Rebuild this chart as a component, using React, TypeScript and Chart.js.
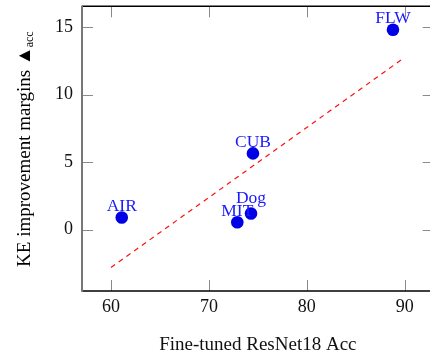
import React, { useEffect, useRef } from "react";
import { Chart, registerables } from "chart.js";

Chart.register(...registerables);

const categories = ["AIR", "MIT", "Dog", "CUB", "FLW"];
const accValues = [61.1, 72.9, 74.3, 74.5, 88.8];
const marginValues = [0.9, 0.55, 1.2, 5.65, 14.8];
const fitX = [60, 89.7];
const fitY = [-2.8, 12.6];
const xTicks = [60, 70, 80, 90];
const yTicks = [0, 5, 10, 15];
const xTitle = "Fine-tuned ResNet18 Acc";
const yTitleMain = "KE improvement margins \u25B2";
const yTitleSub = "acc";

const FONT = "'Liberation Serif', 'Times New Roman', serif";

const framePlugin = {
  id: "frame",
  beforeDatasetsDraw(chart: any) {
    const { ctx, chartArea: a, scales } = chart;
    ctx.save();
    ctx.strokeStyle = "#8a8a8a";
    ctx.lineWidth = 1;
    const L = 11;
    xTicks.forEach((v) => {
      const px = Math.round(scales.x.getPixelForValue(v)) + 0.5;
      ctx.beginPath();
      ctx.moveTo(px, a.bottom);
      ctx.lineTo(px, a.bottom - L);
      ctx.moveTo(px, a.top);
      ctx.lineTo(px, a.top + L);
      ctx.stroke();
    });
    yTicks.forEach((v) => {
      const py = Math.round(scales.y.getPixelForValue(v)) + 0.5;
      ctx.beginPath();
      ctx.moveTo(a.left, py);
      ctx.lineTo(a.left + L, py);
      ctx.moveTo(a.right, py);
      ctx.lineTo(a.right - L, py);
      ctx.stroke();
    });
    ctx.strokeStyle = "#000";
    ctx.lineWidth = 1.4;
    ctx.beginPath();
    ctx.moveTo(a.left, a.top);
    ctx.lineTo(a.right, a.top);
    ctx.moveTo(a.right, a.top);
    ctx.lineTo(a.right, a.bottom);
    ctx.moveTo(a.left, a.bottom);
    ctx.lineTo(a.right, a.bottom);
    ctx.stroke();
    ctx.strokeStyle = "#777";
    ctx.lineWidth = 2;
    ctx.beginPath();
    ctx.moveTo(a.left, a.top - 0.7);
    ctx.lineTo(a.left, a.bottom + 0.7);
    ctx.stroke();
    ctx.restore();
  },
  afterDatasetsDraw(chart: any) {
    const { ctx } = chart;
    const meta = chart.getDatasetMeta(0);
    ctx.save();
    ctx.font = `17.5px ${FONT}`;
    ctx.fillStyle = "#1a1aff";
    ctx.textAlign = "center";
    ctx.textBaseline = "alphabetic";
    meta.data.forEach((el: any, i: number) => {
      const label = categories[i];
      const m = ctx.measureText(label);
      const desc = Math.max(0, m.actualBoundingBoxDescent || 0);
      ctx.fillText(label, el.x, el.y - 6.5 - desc);
    });
    ctx.restore();
  },
  afterDraw(chart: any) {
    const { ctx, chartArea: a } = chart;
    ctx.save();
    const cy = (a.top + a.bottom) / 2;
    ctx.translate(30, cy);
    ctx.rotate(-Math.PI / 2);
    ctx.fillStyle = "#000";
    ctx.textBaseline = "alphabetic";
    ctx.textAlign = "left";
    const mainFont = `19px ${FONT}`;
    const subFont = `12px ${FONT}`;
    ctx.font = mainFont;
    const w1 = ctx.measureText(yTitleMain).width;
    ctx.font = subFont;
    const w2 = ctx.measureText(yTitleSub).width;
    const x0 = -(w1 + w2) / 2;
    ctx.font = mainFont;
    ctx.fillText(yTitleMain, x0, 0);
    ctx.font = subFont;
    ctx.fillText(yTitleSub, x0 + w1 - 1, 2.5);
    ctx.restore();
  },
};

export default function App() {
  const ref = useRef<HTMLCanvasElement>(null);
  useEffect(() => {
    if (!ref.current) return;
    const chart = new Chart(ref.current, {
      type: "scatter",
      data: {
        datasets: [
          {
            data: accValues.map((x, i) => ({ x, y: marginValues[i] })),
            backgroundColor: "#0000e6",
            borderWidth: 0,
            pointRadius: 6.3,
            pointHoverRadius: 6.3,
          },
          {
            type: "line",
            data: fitX.map((x, i) => ({ x, y: fitY[i] })),
            borderColor: "#ff1010",
            borderWidth: 1.2,
            borderDash: [5, 4.5],
            pointRadius: 0,
            showLine: true,
            fill: false,
          } as any,
        ],
      },
      options: {
        responsive: false,
        animation: false,
        layout: { padding: { top: 0, right: 6, left: 0, bottom: 0 } },
        plugins: { legend: { display: false }, tooltip: { enabled: false } },
        scales: {
          x: {
            type: "linear",
            min: 57.04,
            max: 92.96,
            afterBuildTicks: (s: any) => {
              s.ticks = xTicks.map((v) => ({ value: v }));
            },
            afterFit: (s: any) => {
              s.height = 64;
              s.paddingLeft = 0;
              s.paddingRight = 0;
            },
            grid: { display: true, drawOnChartArea: false, drawTicks: false, color: "rgba(0,0,0,0)" },
            border: { display: false },
            ticks: {
              padding: 5,
              color: "#111",
              font: { family: FONT, size: 18 },
              maxRotation: 0,
              callback: (v: any) => String(v),
            },
            title: {
              display: true,
              text: xTitle,
              color: "#111",
              font: { family: FONT, size: 19, lineHeight: 1 },
              padding: { top: 0, bottom: 0 },
            },
          },
          y: {
            type: "linear",
            min: -4.54,
            max: 16.54,
            afterBuildTicks: (s: any) => {
              s.ticks = yTicks.map((v) => ({ value: v }));
            },
            afterFit: (s: any) => {
              s.width = 82;
              s.paddingTop = 0;
              s.paddingBottom = 0;
            },
            grid: { display: true, drawOnChartArea: false, drawTicks: false, color: "rgba(0,0,0,0)" },
            border: { display: false },
            ticks: {
              padding: 9,
              color: "#111",
              font: { family: FONT, size: 18 },
              callback: (v: any) => String(v),
            },
          },
        },
      },
      plugins: [framePlugin],
    });
    return () => chart.destroy();
  }, []);
  return (
    <div style={{ position: "fixed", left: 0, top: 0, width: 440, height: 355 }}>
      <canvas ref={ref} width={440} height={355} style={{ display: "block" }} />
    </div>
  );
}
